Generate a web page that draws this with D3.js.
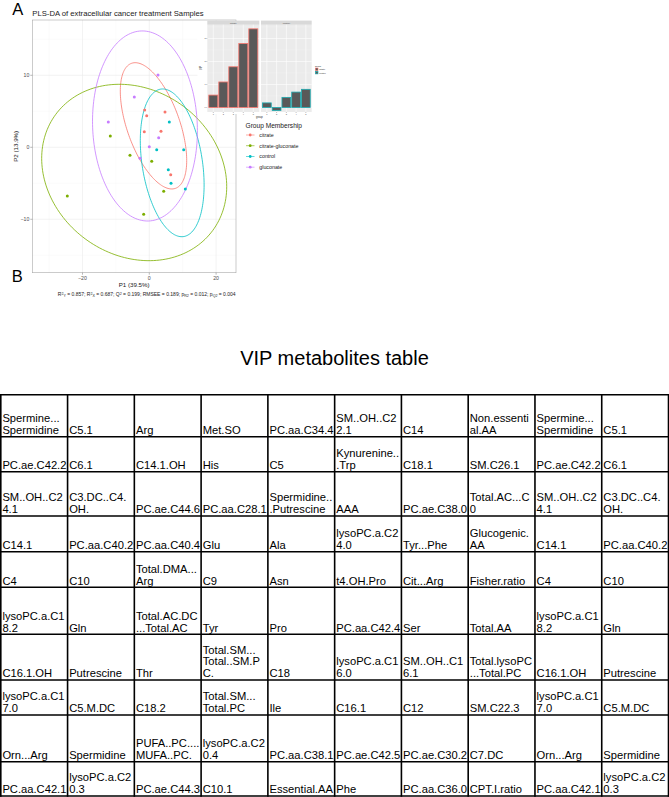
<!DOCTYPE html>
<html><head><meta charset="utf-8">
<script src="https://cdn.jsdelivr.net/npm/d3@7"></script>
<style>body{margin:0;background:#fff}svg{display:block}text{font-family:"Liberation Sans",Arial,sans-serif}</style>
</head><body>
<svg id="c" width="669" height="797"></svg>
<script>
// ---------------- DATA ----------------
const groups = ["citrate", "citrate-gluconate", "control", "gluconate"];
const groupColors = ["#F8766D", "#7CAE00", "#00BFC4", "#C77CFF"];
// scores [P1, P2] per group
const citrate = [[-1.38, 5.18], [-0.78, 4.39], [4.70, 4.90], [-1.50, 2.17], [3.50, 2.22], [6.41, -3.81]];
const citrateGluconate = [[-11.68, 1.57], [-5.78, -1.11], [0.72, -1.94], [4.31, -6.11], [-24.55, -6.76], [-1.68, -9.31]];
const control = [[5.99, 3.51], [2.22, -0.33], [10.30, -0.33], [5.69, -3.11], [6.50, -5.00], [10.78, -5.79]];
const gluconate = [[2.60, 10.04], [-4.49, 6.99], [-12.28, 3.51], [2.81, 1.33], [0.00, 0.08], [-2.78, -1.53]];
// confidence ellipses (centre, half-extent in P1 & P2, correlation)
const ellipseCx = [1.26, -4.52, 6.86, -1.30];
const ellipseCy = [2.98, -3.50, -2.16, 2.96];
const ellipseSx = [9.94, 27.70, 9.55, 15.70];
const ellipseSy = [8.77, 12.25, 10.26, 13.20];
const ellipseR = [-0.55, -0.16, -0.30, -0.05];
const xTicks = [-20, 0, 20];
const yTicks = [-10, 0, 10];
const xTitle = "P1 (39.5%)";
const yTitle = "P2 (13.9%)";
const plotTitle = "PLS-DA of extracellular cancer treatment Samples";
const legendTitle = "Group Membership";

// inset bar chart
const insetFacets = ["citrate", "control"];
const insetCats = ["1", "2", "3", "4", "5"];
const insetLeftValues = [0.54, 1.11, 1.77, 2.78, 3.42];
const insetRightValues = [0.20, -0.13, 0.44, 0.67, 0.79];
const insetYTicks = [0, 1, 2, 3];
const insetOutline = ["#F8766D", "#1AAAB0"];

// table
const tableTitle = "VIP metabolites table";
const tableRows = [
  ["Spermine...\nSpermidine","C5.1","Arg","Met.SO","PC.aa.C34.4","SM..OH..C2\n2.1","C14","Non.essenti\nal.AA","Spermine...\nSpermidine","C5.1"],
  ["PC.ae.C42.2","C6.1","C14.1.OH","His","C5","Kynurenine..\n.Trp","C18.1","SM.C26.1","PC.ae.C42.2","C6.1"],
  ["SM..OH..C2\n4.1","C3.DC..C4.\nOH.","PC.ae.C44.6","PC.aa.C28.1","Spermidine..\n.Putrescine","AAA","PC.ae.C38.0","Total.AC...C\n0","SM..OH..C2\n4.1","C3.DC..C4.\nOH."],
  ["C14.1","PC.aa.C40.2","PC.aa.C40.4","Glu","Ala","lysoPC.a.C2\n4.0","Tyr...Phe","Glucogenic.\nAA","C14.1","PC.aa.C40.2"],
  ["C4","C10","Total.DMA...\nArg","C9","Asn","t4.OH.Pro","Cit...Arg","Fisher.ratio","C4","C10"],
  ["lysoPC.a.C1\n8.2","Gln","Total.AC.DC\n...Total.AC","Tyr","Pro","PC.aa.C42.4","Ser","Total.AA","lysoPC.a.C1\n8.2","Gln"],
  ["C16.1.OH","Putrescine","Thr","Total.SM...\nTotal..SM.P\nC.","C18","lysoPC.a.C1\n6.0","SM..OH..C1\n6.1","Total.lysoPC\n...Total.PC","C16.1.OH","Putrescine"],
  ["lysoPC.a.C1\n7.0","C5.M.DC","C18.2","Total.SM...\nTotal.PC","Ile","C16.1","C12","SM.C22.3","lysoPC.a.C1\n7.0","C5.M.DC"],
  ["Orn...Arg","Spermidine","PUFA..PC....\nMUFA..PC.","lysoPC.a.C2\n0.4","PC.aa.C38.1","PC.ae.C42.5","PC.ae.C30.2","C7.DC","Orn...Arg","Spermidine"],
  ["PC.aa.C42.1","lysoPC.a.C2\n0.3","PC.ae.C44.3","C10.1","Essential.AA","Phe","PC.aa.C36.0","CPT.I.ratio","PC.aa.C42.1","lysoPC.a.C2\n0.3"]
];

// ---------------- DRAW ----------------
const svg = d3.select("#c");
const groupPoints = [citrate, citrateGluconate, control, gluconate];

// panel A scatter
const P = {l: 32.3, r: 236, t: 20, b: 272.7};
const x = d3.scaleLinear().domain([-35.03, 25.96]).range([P.l, P.r]);
const y = d3.scaleLinear().domain([-17.42, 17.68]).range([P.b, P.t]);

const gA = svg.append("g");
gA.append("rect").attr("x", P.l).attr("y", P.t).attr("width", P.r - P.l).attr("height", P.b - P.t).attr("fill", "#fff");
// minor grid
const xMinor = [-30, -10, 10];
const yMinor = [-15, -5, 5, 15];
gA.selectAll(".xm").data(xMinor).join("line").attr("x1", d => x(d)).attr("x2", d => x(d)).attr("y1", P.t).attr("y2", P.b).attr("stroke", "#F4F4F4").attr("stroke-width", 0.4);
gA.selectAll(".ym").data(yMinor).join("line").attr("y1", d => y(d)).attr("y2", d => y(d)).attr("x1", P.l).attr("x2", P.r).attr("stroke", "#F4F4F4").attr("stroke-width", 0.4);
gA.selectAll(".xg").data(xTicks).join("line").attr("x1", d => x(d)).attr("x2", d => x(d)).attr("y1", P.t).attr("y2", P.b).attr("stroke", "#EBEBEB").attr("stroke-width", 0.6);
gA.selectAll(".yg").data(yTicks).join("line").attr("y1", d => y(d)).attr("y2", d => y(d)).attr("x1", P.l).attr("x2", P.r).attr("stroke", "#EBEBEB").attr("stroke-width", 0.6);

// ellipses
const tSteps = d3.range(0, 2 * Math.PI + 0.001, Math.PI / 90);
const ellLine = d3.line().x(d => x(d[0])).y(d => y(d[1]));
groups.forEach((g, i) => {
  const dd = Math.acos(ellipseR[i]);
  const pts = tSteps.map(t => [ellipseCx[i] + ellipseSx[i] * Math.cos(t), ellipseCy[i] + ellipseSy[i] * Math.cos(t + dd)]);
  gA.append("path").attr("d", ellLine(pts)).attr("fill", "none").attr("stroke", groupColors[i]).attr("stroke-width", 0.8);
});
// points
groups.forEach((g, i) => {
  gA.selectAll(null).data(groupPoints[i]).join("circle")
    .attr("cx", d => x(d[0])).attr("cy", d => y(d[1])).attr("r", 1.5).attr("fill", groupColors[i]);
});
// border
gA.append("rect").attr("x", P.l).attr("y", P.t).attr("width", P.r - P.l).attr("height", P.b - P.t).attr("fill", "none").attr("stroke", "#A8A8A8").attr("stroke-width", 0.6);

// axes ticks & labels
const fmt = d => d < 0 ? "\u2212" + Math.abs(d) : String(d);
gA.selectAll(".xt").data(xTicks).join("line").attr("x1", d => x(d)).attr("x2", d => x(d)).attr("y1", P.b).attr("y2", P.b + 2).attr("stroke", "#4D4D4D").attr("stroke-width", 0.4);
gA.selectAll(".xl").data(xTicks).join("text").attr("x", d => x(d)).attr("y", P.b + 7).attr("text-anchor", "middle").attr("font-size", 5.2).attr("fill", "#4D4D4D").text(fmt);
gA.selectAll(".yt").data(yTicks).join("line").attr("y1", d => y(d)).attr("y2", d => y(d)).attr("x1", P.l - 2).attr("x2", P.l).attr("stroke", "#4D4D4D").attr("stroke-width", 0.4);
gA.selectAll(".yl").data(yTicks).join("text").attr("x", P.l - 3).attr("y", d => y(d) + 1.8).attr("text-anchor", "end").attr("font-size", 5.2).attr("fill", "#4D4D4D").text(fmt);
gA.append("text").attr("x", (P.l + P.r) / 2).attr("y", 287.3).attr("text-anchor", "middle").attr("font-size", 6.2).attr("fill", "#1a1a1a").text(xTitle);
gA.append("text").attr("transform", `translate(17.5,${(P.t + P.b) / 2}) rotate(-90)`).attr("text-anchor", "middle").attr("font-size", 6.2).attr("fill", "#1a1a1a").text(yTitle);
gA.append("text").attr("x", P.l).attr("y", 15.8).attr("font-size", 7.7).attr("fill", "#1a1a1a").text(plotTitle);

// stats note
const note = gA.append("text").attr("x", 146.7).attr("y", 296.3).attr("text-anchor", "middle").attr("font-size", 5).attr("fill", "#1a1a1a");
const noteParts = [
  ["R", ""], ["2", "sup"], ["Y", "sub"], [" = 0.857; R", ""], ["2", "sup"], ["X", "sub"],
  [" = 0.687; Q", ""], ["2", "sup"], [" = 0.199; RMSEE = 0.189; p", ""], ["R2", "sub"], [" = 0.012; p", ""], ["Q2", "sub"], [" = 0.004", ""]
];
let prev = "";
noteParts.forEach(([t, k]) => {
  const ts = note.append("tspan").text(t);
  let dy = 0;
  const target = k === "sup" ? -1.6 : k === "sub" ? 1.0 : 0;
  const cur = prev === "sup" ? -1.6 : prev === "sub" ? 1.0 : 0;
  dy = target - cur;
  if (dy !== 0) ts.attr("dy", dy);
  if (k) ts.attr("font-size", 3.6);
  prev = k;
});

// legend
const gL = svg.append("g");
gL.append("text").attr("x", 245.5).attr("y", 127.8).attr("font-size", 6.6).attr("fill", "#1a1a1a").text(legendTitle);
const legY = [135, 145.7, 156.5, 167.2];
groups.forEach((g, i) => {
  gL.append("line").attr("x1", 246).attr("x2", 254.5).attr("y1", legY[i]).attr("y2", legY[i]).attr("stroke", groupColors[i]).attr("stroke-width", 0.6);
  gL.append("circle").attr("cx", 250.2).attr("cy", legY[i]).attr("r", 1.4).attr("fill", groupColors[i]);
  gL.append("text").attr("x", 259.3).attr("y", legY[i] + 1.9).attr("font-size", 5.3).attr("fill", "#1a1a1a").text(g);
});

// panel labels
svg.append("text").attr("x", 12.2).attr("y", 15.2).attr("font-size", 16.5).attr("fill", "#000").text("A");
svg.append("text").attr("x", 11.8).attr("y", 282).attr("font-size", 16.5).attr("fill", "#000").text("B");

// inset bar chart
const gI = svg.append("g");
gI.append("rect").attr("x", 197.5).attr("y", 21).attr("width", 132).attr("height", 93).attr("fill", "#fff");
const IP = {t: 24.7, b: 112, strT: 20.6};
const facetRanges = [[207.3, 259.3], [261, 311.7]];
const iy = d3.scaleLinear().domain([-0.196, 3.6]).range([IP.b, IP.t]);
const facetValues = [insetLeftValues, insetRightValues];
facetRanges.forEach((fr, f) => {
  const bx = d3.scaleBand().domain(insetCats).range(fr).paddingInner(0.1).paddingOuter(0.15);
  gI.append("rect").attr("x", fr[0]).attr("y", IP.t).attr("width", fr[1] - fr[0]).attr("height", IP.b - IP.t).attr("fill", "#EBEBEB");
  gI.append("rect").attr("x", fr[0]).attr("y", IP.strT).attr("width", fr[1] - fr[0]).attr("height", IP.t - IP.strT).attr("fill", "#D9D9D9");
  gI.append("text").attr("x", (fr[0] + fr[1]) / 2).attr("y", IP.t - 1.1).attr("text-anchor", "middle").attr("font-size", 2.4).attr("fill", "#4D4D4D").text(insetFacets[f]);
  const minorT = [0.5, 1.5, 2.5, 3.5];
  gI.selectAll(null).data(minorT).join("line").attr("x1", fr[0]).attr("x2", fr[1]).attr("y1", d => iy(d)).attr("y2", d => iy(d)).attr("stroke", "#F5F5F5").attr("stroke-width", 0.3);
  gI.selectAll(null).data(insetYTicks).join("line").attr("x1", fr[0]).attr("x2", fr[1]).attr("y1", d => iy(d)).attr("y2", d => iy(d)).attr("stroke", "#fff").attr("stroke-width", 0.6);
  gI.selectAll(null).data(insetCats).join("line").attr("x1", d => bx(d) + bx.bandwidth() / 2).attr("x2", d => bx(d) + bx.bandwidth() / 2).attr("y1", IP.t).attr("y2", IP.b).attr("stroke", "#fff").attr("stroke-width", 0.6);
  gI.selectAll(null).data(insetCats).join("rect")
    .attr("x", d => bx(d)).attr("width", bx.bandwidth())
    .attr("y", (d, i) => iy(Math.max(0, facetValues[f][i])))
    .attr("height", (d, i) => Math.abs(iy(facetValues[f][i]) - iy(0)))
    .attr("fill", "#595959").attr("stroke", insetOutline[f]).attr("stroke-width", 0.8);
  gI.selectAll(null).data(insetCats).join("line").attr("x1", d => bx(d) + bx.bandwidth() / 2).attr("x2", d => bx(d) + bx.bandwidth() / 2).attr("y1", IP.b).attr("y2", IP.b + 1).attr("stroke", "#333").attr("stroke-width", 0.3);
  gI.selectAll(null).data(insetCats).join("text").attr("x", d => bx(d) + bx.bandwidth() / 2).attr("y", IP.b + 3.2).attr("text-anchor", "middle").attr("font-size", 2.2).attr("fill", "#4D4D4D").text(d => d);
});
gI.selectAll(null).data(insetYTicks).join("line").attr("x1", 206.3).attr("x2", 207.3).attr("y1", d => iy(d)).attr("y2", d => iy(d)).attr("stroke", "#333").attr("stroke-width", 0.3);
gI.selectAll(null).data(insetYTicks).join("text").attr("x", 205.8).attr("y", d => iy(d) + 0.8).attr("text-anchor", "end").attr("font-size", 2.2).attr("fill", "#4D4D4D").text(d => d);
gI.append("text").attr("transform", "translate(202,68) rotate(-90)").attr("text-anchor", "middle").attr("font-size", 2.6).attr("fill", "#1a1a1a").text("VIP");
gI.append("text").attr("x", 259.3).attr("y", 118).attr("text-anchor", "middle").attr("font-size", 2.6).attr("fill", "#1a1a1a").text("group");
gI.append("text").attr("x", 315).attr("y", 66.5).attr("font-size", 2.4).attr("fill", "#1a1a1a").text("group");
insetFacets.forEach((f, i) => {
  gI.append("rect").attr("x", 315.4).attr("y", 68 + i * 3.3).attr("width", 2.6).attr("height", 2.6).attr("fill", "#595959").attr("stroke", insetOutline[i]).attr("stroke-width", 0.6);
  gI.append("text").attr("x", 319.2).attr("y", 70.2 + i * 3.3).attr("font-size", 2.2).attr("fill", "#1a1a1a").text(f);
});

// table
svg.append("text").attr("x", 334.5).attr("y", 365).attr("text-anchor", "middle").attr("font-size", 20).attr("fill", "#000").text(tableTitle);
const rowEdges = [394.7, 436.7, 471.7, 516, 551.7, 587.3, 634.3, 680, 715, 761.7, 796];
const cx = d3.scaleBand().domain(d3.range(10)).range([0.8, 668.5]);
const gT = svg.append("g");
tableRows.forEach((row, r) => {
  row.forEach((cell, c) => {
    const lines = cell.split("\n");
    const bottom = rowEdges[r + 1];
    lines.forEach((ln, k) => {
      gT.append("text").attr("x", cx(c) + 1.6).attr("y", bottom - 2.8 - (lines.length - 1 - k) * 11.8)
        .attr("font-size", 11.2).attr("fill", "#000").text(ln);
    });
  });
});
rowEdges.forEach(e => gT.append("line").attr("x1", 0).attr("x2", 669).attr("y1", e).attr("y2", e).attr("stroke", "#000").attr("stroke-width", 1.6));
d3.range(11).forEach(c => {
  const xx = c < 10 ? cx(c) : cx(9) + cx.bandwidth();
  gT.append("line").attr("x1", xx).attr("x2", xx).attr("y1", rowEdges[0] - 0.8).attr("y2", rowEdges[10] + 0.8).attr("stroke", "#000").attr("stroke-width", 1.6);
});
</script>
</body></html>
